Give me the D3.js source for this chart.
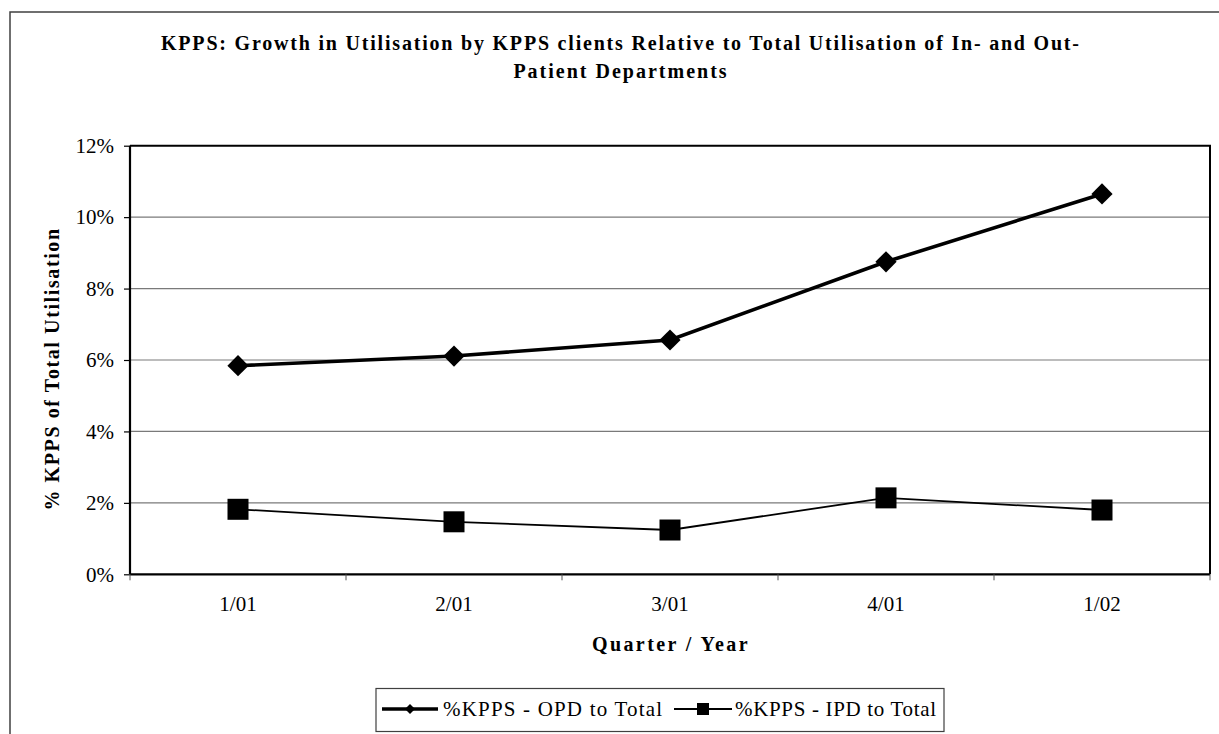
<!DOCTYPE html>
<html><head><meta charset="utf-8">
<script src="https://cdn.jsdelivr.net/npm/d3@7/dist/d3.min.js"></script>
<style>
html,body{margin:0;padding:0;background:#fff;}
svg{display:block;font-family:"Liberation Serif","Times New Roman",serif;}
</style></head>
<body><svg id="c" width="1219" height="734"></svg>
<script>
const categories = ["1/01","2/01","3/01","4/01","1/02"];
const opdValues = [5.84, 6.11, 6.56, 8.75, 10.65];
const ipdValues = [1.82, 1.47, 1.24, 2.14, 1.80];
const yTicks = [0,2,4,6,8,10,12];
const seriesNames = ["%KPPS - OPD to Total","%KPPS - IPD to Total"];
const titleLines = ["KPPS: Growth in Utilisation by KPPS clients Relative to Total Utilisation of In- and Out-","Patient Departments"];

const svg = d3.select("#c");
const L=130, R=1210, T=145.7, B=574.3;

// outer frame
svg.append("rect").attr("x",10).attr("y",12).attr("width",1230).attr("height",740)
  .attr("fill","none").attr("stroke","#404040").attr("stroke-width",1.5);

// title
const tl = svg.append("g");
tl.append("text").attr("x",620).attr("y",50).attr("text-anchor","middle")
  .attr("font-weight","bold").attr("font-size",20)
  .attr("textLength",918).attr("lengthAdjust","spacing").text(titleLines[0]);
tl.append("text").attr("x",621).attr("y",78).attr("text-anchor","middle")
  .attr("font-weight","bold").attr("font-size",20).attr("letter-spacing",2).text(titleLines[1]);

const x = d3.scaleBand().domain(categories).range([L,R]).padding(0);
const y = d3.scaleLinear().domain([0,12]).range([B,T]);

// gridlines
svg.append("g").selectAll("line").data(yTicks.filter(d=>d>0&&d<12)).join("line")
  .attr("x1",L).attr("x2",R).attr("y1",d=>y(d)).attr("y2",d=>y(d))
  .attr("stroke","#7a7a7a").attr("stroke-width",1.2);

// plot border top/right
svg.append("path").attr("d",`M${L},${T}H${R}V${B}`).attr("fill","none").attr("stroke","#000").attr("stroke-width",2);

// y axis
const yAxis = svg.append("g").attr("transform",`translate(${L},0)`)
  .call(d3.axisLeft(y).tickValues(yTicks).tickFormat(d=>d+"%").tickSize(6).tickPadding(10));
yAxis.select(".domain").attr("stroke","#000").attr("stroke-width",2.2).attr("d",`M0,${T}V${B}`);
yAxis.selectAll(".tick line").attr("stroke","#000").attr("stroke-width",1.2);
yAxis.selectAll("text").attr("font-size",21).attr("font-family","Liberation Serif").attr("fill","#000");

// x axis
const xAxis = svg.append("g").attr("transform",`translate(0,${B})`)
  .call(d3.axisBottom(x).tickSize(0).tickPadding(22));
xAxis.select(".domain").attr("stroke","#000").attr("stroke-width",2.2).attr("d",`M${L},0H${R}`);
xAxis.selectAll("text").attr("font-size",21).attr("font-family","Liberation Serif").attr("fill","#000");
// boundary ticks
const bounds = categories.map(c=>x(c)).concat([R]);
svg.append("g").selectAll("line").data(bounds).join("line")
  .attr("x1",d=>d).attr("x2",d=>d).attr("y1",B).attr("y2",B+6)
  .attr("stroke","#555").attr("stroke-width",1);

// axis titles
svg.append("text").attr("x",671).attr("y",651).attr("text-anchor","middle")
  .attr("font-weight","bold").attr("font-size",20).attr("letter-spacing",2.4).text("Quarter / Year");
svg.append("text").attr("transform","translate(59,369) rotate(-90)").attr("text-anchor","middle")
  .attr("font-weight","bold").attr("font-size",20).attr("letter-spacing",1.6).text("% KPPS of Total Utilisation");

const cx = c => x(c) + x.bandwidth()/2;
const line = d3.line().x((d,i)=>cx(categories[i])).y(d=>y(d));

// OPD series
svg.append("path").datum(opdValues).attr("d",line).attr("fill","none").attr("stroke","#000").attr("stroke-width",3.6);
const diamond = d3.symbol().type(d3.symbolSquare).size(225);
svg.append("g").selectAll("path").data(opdValues).join("path")
  .attr("d",diamond()).attr("transform",(d,i)=>`translate(${cx(categories[i])},${y(d)}) rotate(45)`).attr("fill","#000");

// IPD series
svg.append("path").datum(ipdValues).attr("d",line).attr("fill","none").attr("stroke","#000").attr("stroke-width",1.8);
const sq = 21;
svg.append("g").selectAll("rect").data(ipdValues).join("rect")
  .attr("x",(d,i)=>cx(categories[i])-sq/2).attr("y",d=>y(d)-sq/2).attr("width",sq).attr("height",sq).attr("fill","#000");

// legend
const lg = svg.append("g");
lg.append("rect").attr("x",376).attr("y",688.5).attr("width",568).attr("height",43)
  .attr("fill","#fff").attr("stroke","#404040").attr("stroke-width",1.2);
// entry 1
lg.append("line").attr("x1",382).attr("x2",438).attr("y1",709).attr("y2",709).attr("stroke","#000").attr("stroke-width",3.6);
lg.append("path").attr("d",d3.symbol().type(d3.symbolSquare).size(50)()).attr("transform","translate(410,709) rotate(45)").attr("fill","#000");
lg.append("text").attr("x",443).attr("y",716).attr("font-size",21).attr("textLength",219).attr("lengthAdjust","spacing").text(seriesNames[0]);
// entry 2
lg.append("line").attr("x1",674).attr("x2",732).attr("y1",709).attr("y2",709).attr("stroke","#000").attr("stroke-width",1.8);
lg.append("rect").attr("x",697).attr("y",703).attr("width",12).attr("height",12).attr("fill","#000");
lg.append("text").attr("x",735).attr("y",716).attr("font-size",21).attr("textLength",201).attr("lengthAdjust","spacing").text(seriesNames[1]);
</script></body></html>
